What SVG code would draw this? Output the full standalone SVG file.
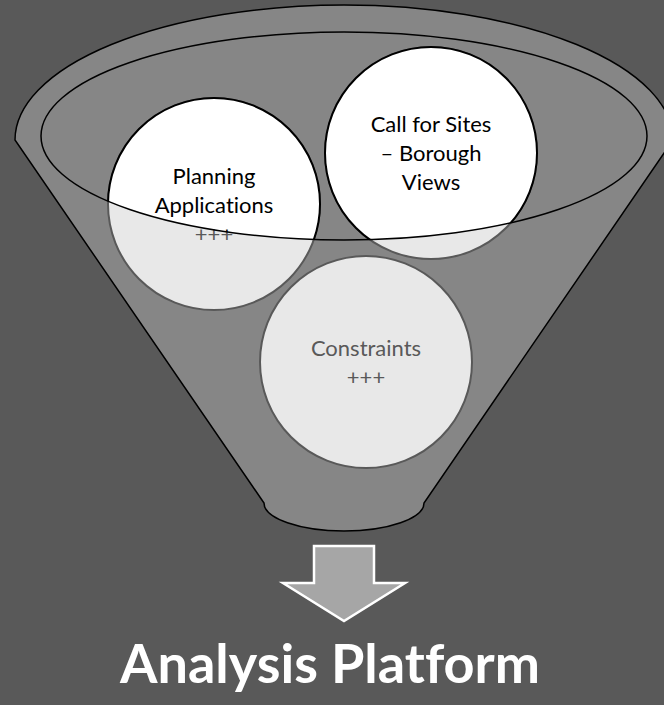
<svg xmlns="http://www.w3.org/2000/svg" width="664" height="705" viewBox="0 0 664 705">
  <style>
    .bubble-lo { fill: #E8E8E8; stroke: #595959; stroke-width: 2; }
    .bubble-hi { fill: #FFFFFF; stroke: #000000; stroke-width: 2; }
    .lbl { font-family: "Lato", "Liberation Sans", sans-serif; font-size: 22px; text-anchor: middle; font-variant-ligatures: none; }
    .lbl-lo { fill: #595959; }
    .lbl-hi { fill: #000000; }
    .title { font-family: "Lato", "Liberation Sans", sans-serif; font-size: 54px; font-weight: bold; fill: #FFFFFF; text-anchor: middle; font-variant-ligatures: none; }
  </style>
  <defs>
    <clipPath id="innerClip">
      <ellipse cx="344" cy="136" rx="303" ry="104"/>
    </clipPath>
  </defs>
  <rect x="0" y="0" width="664" height="705" fill="#595959"/>

  <g id="funnel">
    <path d="M 15 140 A 329 135 0 0 1 673 140 L 424 503 A 80 28 0 0 1 264 503 Z" fill="#868686" stroke="#000000" stroke-width="1.5"/>
  </g>

  <g id="node-planning">
    <circle class="bubble-lo" cx="214" cy="204" r="106"/>
    <text class="lbl lbl-lo" x="214" y="184">Planning</text>
    <text class="lbl lbl-lo" x="214" y="213">Applications</text>
    <text class="lbl lbl-lo" x="214" y="242">+++</text>
    <g clip-path="url(#innerClip)">
      <circle class="bubble-hi" cx="214" cy="204" r="106"/>
      <text class="lbl lbl-hi" x="214" y="184">Planning</text>
      <text class="lbl lbl-hi" x="214" y="213">Applications</text>
      <text class="lbl lbl-hi" x="214" y="242">+++</text>
    </g>
  </g>

  <g id="node-sites">
    <circle class="bubble-lo" cx="431" cy="153" r="106"/>
    <g clip-path="url(#innerClip)">
      <circle class="bubble-hi" cx="431" cy="153" r="106"/>
      <text class="lbl lbl-hi" x="431" y="132">Call for Sites</text>
      <text class="lbl lbl-hi" x="431" y="161">– Borough</text>
      <text class="lbl lbl-hi" x="431" y="190">Views</text>
    </g>
  </g>

  <g id="node-constraints">
    <circle class="bubble-lo" cx="366" cy="362" r="106"/>
    <text class="lbl lbl-lo" x="366" y="356">Constraints</text>
    <text class="lbl lbl-lo" x="366" y="385">+++</text>
  </g>

  <g id="funnel-rim">
    <ellipse cx="344" cy="136" rx="303" ry="104" fill="none" stroke="#000000" stroke-width="1.5"/>
  </g>

  <g id="connectors">
    <path d="M 314 546 L 374 546 L 374 583 L 405 583 L 344 621 L 283 583 L 314 583 Z" fill="#A6A6A6" stroke="#FFFFFF" stroke-width="2.5" stroke-linejoin="miter"/>
  </g>

  <g id="node-analysis">
    <text class="title" x="330" y="683">Analysis Platform</text>
  </g>
</svg>
